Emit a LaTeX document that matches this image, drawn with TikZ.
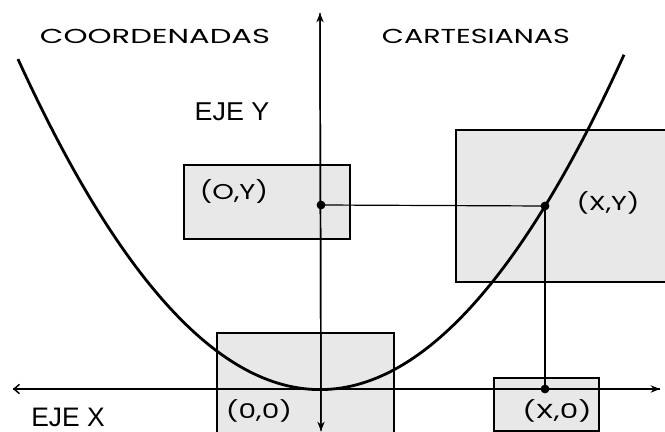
\documentclass[tikz,border=0pt]{standalone}
\usepackage{fontspec}
\usepackage{graphicx}
\usetikzlibrary{arrows.meta}
\newfontfamily\gothic{Poppins}
\newfontfamily\arialf{Liberation Sans}
\newcommand\fitbox[3]{\resizebox*{#1}{#2}{#3}}
\tikzset{
  gbox/.style={draw=black, line width=0.9pt, fill=gray!18, inner sep=0pt},
  axisline/.style={line width=1.1pt},
  joinline/.style={line width=0.9pt},
  curveline/.style={line width=2.1pt, line join=round},
  dotmark/.style={circle, fill=black, inner sep=0pt, minimum size=6.6pt},
  lbl/.style={inner sep=0pt, anchor=center}
}
\begin{document}
\begin{tikzpicture}[x=0.75pt,y=-0.75pt]
\useasboundingbox (0,0) rectangle (665,432);
\clip (0,0) rectangle (665,432);
\fill[white] (0,0) rectangle (665,432);
% boxes
\node[gbox, minimum width=124.5pt, minimum height=55.5pt] (boxoy) at (267,202) {};
\node[gbox, minimum width=160.5pt, minimum height=114pt] (boxxy) at (563,206) {};
\node[gbox, minimum width=132.75pt, minimum height=84pt] (box00) at (305.5,389) {};
\node[gbox, minimum width=78.75pt, minimum height=39.75pt] (boxx0) at (546.5,404.5) {};
% axes
\coordinate (ytop) at (320,13);
\coordinate (ybot) at (321,431);
\coordinate (xl) at (13,389);
\coordinate (xr) at (660,389);
\draw[axisline, -{Stealth[length=7pt,width=5.5pt]}] (xl) -- (xr);
\draw[axisline, -{Straight Barb[length=4pt,width=7pt]}] (xr) -- (xl);
\draw[axisline, -{Stealth[length=7pt,width=5.5pt]}] (ybot) -- (ytop);
\draw[axisline, -{Stealth[length=7pt,width=5.5pt]}] (ytop) -- (ybot);
% points
\node[dotmark] (poy) at (321,205) {};
\node[dotmark] (pxy) at (545,206) {};
\node[dotmark] (px0) at (545,389) {};
\draw[joinline] (poy.center) -- (pxy.center);
\draw[joinline] (pxy.center) -- (px0.center);
% parabola
\draw[curveline] plot[domain=-302:304, samples=151, smooth] ({320+\x},{389.6-(0.0602*\x)*(0.0602*\x)});
% texts
\node[lbl] (t1) at (155,36) {\fitbox{172.5pt}{10.8pt}{\gothic COORDENADAS}};
\node[lbl] (t2) at (476,36) {\fitbox{141pt}{10.8pt}{\gothic CARTESIANAS}};
\node[lbl] (ejey) at (232,112) {\fitbox{56pt}{13.5pt}{\arialf EJE Y}};
\node[lbl] (ejex) at (68,417) {\fitbox{55pt}{14pt}{\arialf EJE X}};
\node[lbl] (loy) at (234,191) {\fitbox{51pt}{18pt}{\gothic (O,Y)}};
\node[lbl] (lxy) at (608,203) {\fitbox{47pt}{17pt}{\gothic (X,Y)}};
\node[lbl] (l00) at (259,411) {\fitbox{49.5pt}{17pt}{\gothic (0,0)}};
\node[lbl] (lx0) at (557,411) {\fitbox{52pt}{17pt}{\gothic (X,0)}};
\end{tikzpicture}
\end{document}
